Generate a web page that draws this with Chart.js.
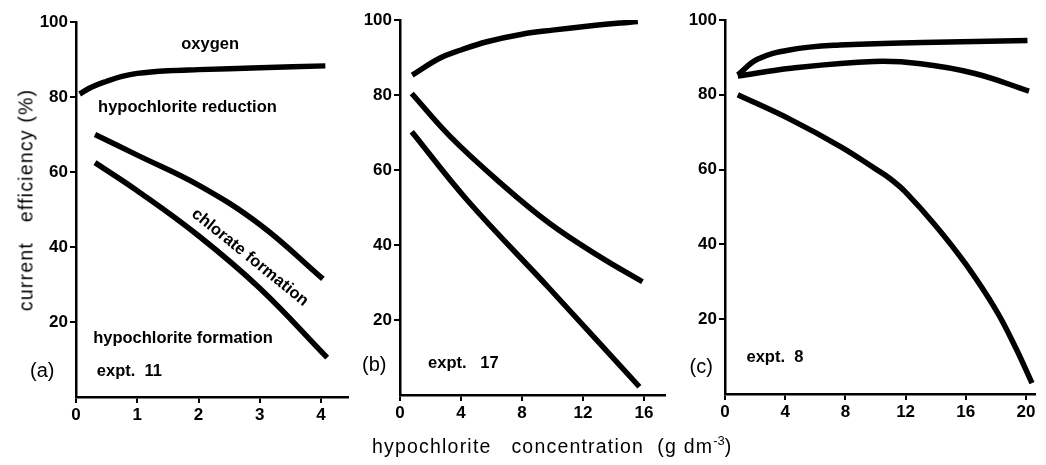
<!DOCTYPE html>
<html>
<head>
<meta charset="utf-8">
<script src="https://cdn.jsdelivr.net/npm/chart.js@4.4.0/dist/chart.umd.min.js"></script>
<style>
  body { margin: 0; background: #fff; width: 1046px; height: 465px; position: relative; overflow: hidden;
         font-family: "Liberation Sans", Arial, sans-serif; color: #000; }
  canvas { position: absolute; left: 0; top: 0; }
  .ytitle { position: absolute; left: 26px; top: 200px; font-size: 19.5px; letter-spacing: 1.2px; white-space: pre;
            transform: translate(-50%, -50%) rotate(-90deg); }
  .xtitle { position: absolute; left: 372px; top: 433px; font-size: 19.5px; letter-spacing: 1.2px; white-space: pre; }
  .xtitle sup { font-size: 13px; letter-spacing: 0; }
</style>
</head>
<body>
<canvas id="panelA" width="1046" height="465"></canvas>
<canvas id="panelB" width="1046" height="465"></canvas>
<canvas id="panelC" width="1046" height="465"></canvas>
<div class="ytitle">current   efficiency (%)</div>
<div class="xtitle">hypochlorite   concentration  (g dm<sup>-3</sup>)</div>
<script>
// ticks shared by all panels
const yTicks = [20, 40, 60, 80, 100];

// (a) expt. 11
const xTicksA = [0, 1, 2, 3, 4];
const oxygenA_x = [0.06, 0.25, 0.5, 0.75, 1, 1.5, 2, 3, 4.07];
const oxygenA_y = [80.8, 82.6, 84.2, 85.5, 86.3, 87.0, 87.3, 87.8, 88.3];
const reductionA_x = [0.31, 1, 2, 3, 4.03];
const reductionA_y = [70, 64.5, 56.5, 46, 31.5];
const formationA_x = [0.31, 1, 2, 3, 4.1];
const formationA_y = [62.5, 55, 43, 29, 10.5];

// (b) expt. 17
const xTicksB = [0, 4, 8, 12, 16];
const topB_x = [0.8, 2.6, 4, 5.7, 8, 10, 12.4, 15.6];
const topB_y = [85.3, 89.8, 92, 94.2, 96.2, 97.3, 98.4, 99.6];
const midB_x = [0.77, 3.3, 6.6, 9.8, 13.1, 15.9];
const midB_y = [80.4, 68.9, 56.5, 45.8, 36.9, 30.2];
const lowB_x = [0.77, 4.4, 9.8, 15.7];
const lowB_y = [70.2, 52, 28.4, 2.2];

// (c) expt. 8
const xTicksC = [0, 4, 8, 12, 16, 20];
const topC_x = [0.85, 2.15, 4.28, 7.6, 13.1, 20.1];
const topC_y = [85.3, 89.5, 92, 93.3, 94, 94.5];
const midC_x = [0.85, 4.4, 9.9, 13, 16.6, 20.2];
const midC_y = [85, 87.1, 88.9, 88.3, 85.7, 81];
const lowC_x = [0.85, 4.4, 7.7, 10, 11, 12, 14, 16, 18, 19.3, 20.4];
const lowC_y = [80, 73.3, 66.1, 60.2, 57.5, 54, 45, 34.7, 22.5, 12.5, 2.9];

const BOLD = 'bold 16.5px "Liberation Sans", Arial, sans-serif';
const PLAIN = '20px "Liberation Sans", Arial, sans-serif';

// draws the text labels inside each panel, placed in data units
const notesPlugin = {
  id: 'notes',
  afterDatasetsDraw(chart, args, opts) {
    const { ctx, scales: { x, y } } = chart;
    (opts.items || []).forEach(n => {
      ctx.save();
      ctx.font = n.font || BOLD;
      ctx.fillStyle = '#000';
      ctx.textAlign = n.align || 'left';
      ctx.textBaseline = 'middle';
      ctx.translate(x.getPixelForValue(n.x), y.getPixelForValue(n.y));
      if (n.rot) ctx.rotate(n.rot * Math.PI / 180);
      ctx.fillText(n.text, 0, 0);
      ctx.restore();
    });
  }
};

function makePanel(id, xTicks, xMax, series, pad, notes) {
  const axisBase = {
    border: { display: true, color: '#000', width: 2.5 },
    grid: { display: true, drawOnChartArea: false, drawTicks: true, tickLength: 6, color: '#000', lineWidth: 2 },
    ticks: { color: '#000', font: { family: '"Liberation Sans", Arial, sans-serif', size: 17, weight: 'bold' }, padding: 2, autoSkip: false, maxRotation: 0 }
  };
  return new Chart(document.getElementById(id), {
    type: 'line',
    data: {
      datasets: series.map(s => ({
        data: s[0].map((v, i) => ({ x: v, y: s[1][i] })),
        borderColor: '#000',
        borderWidth: 5.5,
        pointRadius: 0,
        fill: false,
        tension: 0.4
      }))
    },
    options: {
      responsive: false,
      animation: false,
      events: [],
      layout: { padding: pad },
      plugins: { legend: { display: false }, tooltip: { enabled: false }, notes: { items: notes } },
      scales: {
        x: Object.assign({}, axisBase, {
          type: 'linear', min: 0, max: xMax,
          afterBuildTicks: s => { s.ticks = xTicks.map(v => ({ value: v })); },
          afterFit: s => { s.height = 30; }
        }),
        y: Object.assign({}, axisBase, {
          type: 'linear', min: 0, max: 100,
          afterBuildTicks: s => { s.ticks = yTicks.map(v => ({ value: v })); },
          afterFit: s => { s.width = 50; }
        })
      }
    },
    plugins: [notesPlugin]
  });
}

makePanel('panelA', xTicksA, 4.44,
  [[oxygenA_x, oxygenA_y], [reductionA_x, reductionA_y], [formationA_x, formationA_y]],
  { left: 26, right: 698, top: 22, bottom: 38 },
  [
    { text: 'oxygen', x: 2.19, y: 93.9, align: 'center' },
    { text: 'hypochlorite reduction', x: 0.36, y: 77.1 },
    { text: 'chlorate formation', x: 2.84, y: 37.2, align: 'center', rot: 39 },
    { text: 'hypochlorite formation', x: 0.28, y: 15.7 },
    { text: '(a)', x: -0.75, y: 6.7, font: PLAIN },
    { text: 'expt.  11', x: 0.34, y: 6.7 }
  ]);

makePanel('panelB', xTicksB, 17.38,
  [[topB_x, topB_y], [midB_x, midB_y], [lowB_x, lowB_y]],
  { left: 350, right: 381, top: 20, bottom: 40 },
  [
    { text: '(b)', x: -2.49, y: 8, font: PLAIN },
    { text: 'expt.   17', x: 1.84, y: 8.5 }
  ]);

makePanel('panelC', xTicksC, 20.6,
  [[topC_x, topC_y], [midC_x, midC_y], [lowC_x, lowC_y]],
  { left: 675, right: 11, top: 20, bottom: 41 },
  [
    { text: '(c)', x: -2.36, y: 7.2, font: PLAIN },
    { text: 'expt.  8', x: 1.43, y: 9.9 }
  ]);
</script>
</body>
</html>
